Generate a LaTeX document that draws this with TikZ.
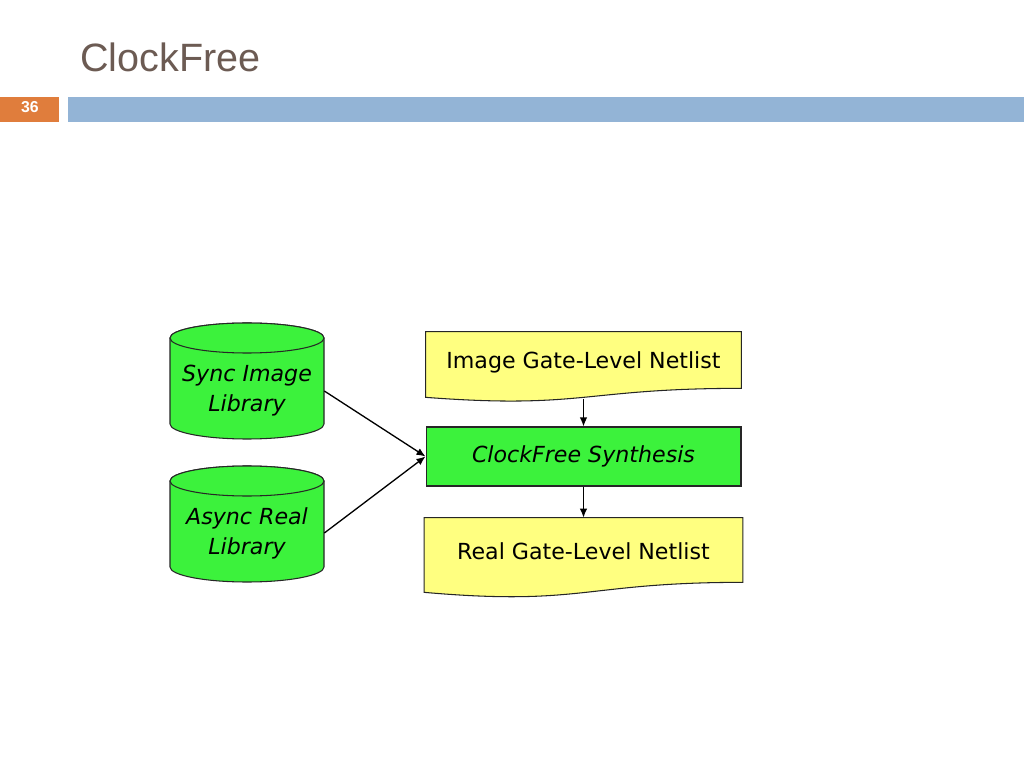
\documentclass[tikz,border=0pt]{standalone}
\usepackage{fontspec}
\setmainfont{Liberation Sans}
\newfontfamily\boxfont{DejaVu Sans}
\usetikzlibrary{calc,arrows.meta}
\definecolor{titlegrey}{RGB}{108,91,83}
\definecolor{slideorange}{RGB}{224,125,60}
\definecolor{slideblue}{RGB}{147,180,214}
\definecolor{libgreen}{RGB}{60,242,60}
\definecolor{netyellow}{RGB}{255,255,128}
\def\libdrum(#1,#2,#3){%
	\filldraw[libbody] (#1-77,#2) -- (#1-77,#3) arc[start angle=180,end angle=360,x radius=77,y radius=15] -- (#1+77,#2) arc[start angle=0,end angle=180,x radius=77,y radius=15] -- cycle;
	\draw[libbody] (#1,#2) ellipse[x radius=77,y radius=15];}

\begin{document}
\begin{tikzpicture}[x=0.02cm, y=0.02cm,
		libbody/.style={fill=libgreen, draw=black!85, line width=0.6pt},
		libtext/.style={font=\boxfont\itshape\fontsize{12.6}{17}\selectfont, align=center, inner sep=0pt, minimum width=3.08cm},
		netbox/.style={font=\boxfont\fontsize{12.6}{17}\selectfont, inner sep=0pt},
		synbox/.style={draw=black!85, line width=0.6pt, fill=libgreen, font=\boxfont\itshape\fontsize{12.6}{17}\selectfont, inner sep=0pt, minimum width=6.3cm, minimum height=1.18cm},
		flow/.style={line width=0.75pt, -{Latex[length=1.8mm,width=1.5mm]}}]
		%%%%% START %%%%%
		
		\useasboundingbox[fill=white] (0, 0) rectangle (1024, 768);
		
		% title and slide bar
		\node[anchor=base west, inner sep=0pt, text=titlegrey, font=\fontsize{22.5}{26}\selectfont] (title) at (80, 696) {ClockFree};
		\fill[slideorange] (0, 646) rectangle (59, 671);
		\fill[slideblue] (68, 646) rectangle (1024, 671);
		\node[text=white, font=\bfseries\fontsize{9}{11}\selectfont] (slideNo) at (30, 661) {36};
		
		% libraries
		\libdrum(247,430,344)
		\node[libtext] (syncLib) at (247, 377) {Sync Image\\Library};
		
		\libdrum(247,287,201)
		\node[libtext] (asyncLib) at (247, 235) {Async Real\\Library};
		
		% netlists and synthesis
		\node[netbox, minimum width=6.3cm, minimum height=1.12cm] (imgNet) at (583.5, 408) {};
		\filldraw[fill=netyellow, draw=black!85, line width=0.6pt] (imgNet.south west) |- (imgNet.north east) -- (imgNet.south east) .. controls (imgNet.south) and ($(imgNet.south)+(0,-21)$) .. ($(imgNet.south west)+(0,-9)$) -- cycle;
		\node[netbox] at ($(imgNet)+(0,-2)$) {Image Gate-Level Netlist};
		
		\node[synbox] (syn) at (583.5, 311.5) {ClockFree Synthesis};
		
		\node[netbox, minimum width=6.36cm, minimum height=1.28cm] (realNet) at (583.5, 218) {};
		\filldraw[fill=netyellow, draw=black!85, line width=0.6pt] ($(realNet.south west)+(0,-10)$) |- (realNet.north east) -- (realNet.south east) .. controls (realNet.south) and ($(realNet.south)+(0,-24)$) .. ($(realNet.south west)+(0,-10)$) -- cycle;
		\node[netbox] at ($(realNet)+(0,-1)$) {Real Gate-Level Netlist};
		
		% connectors
		\draw[flow] ($(imgNet.south)+(0,-11)$) -- (syn.north);
		\draw[flow] (syn.south) -- (realNet.north);
		\draw[flow] (syncLib.east) -- (syn.west);
		\draw[flow] (asyncLib.east) -- (syn.west);
		
		%%%%% END %%%%%
	\end{tikzpicture}
\end{document}
